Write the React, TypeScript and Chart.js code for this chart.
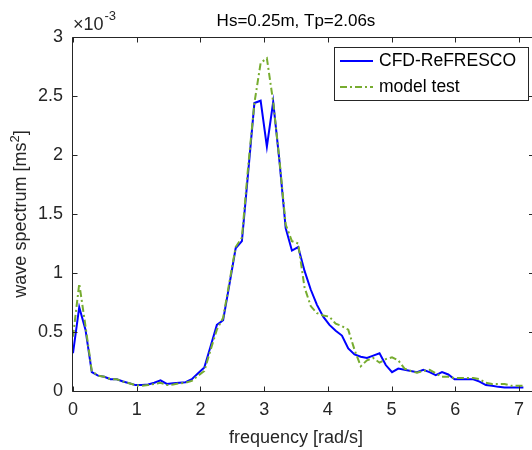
import React, { useEffect, useRef } from "react";
import { Chart, registerables } from "chart.js";

Chart.register(...registerables);

// frequency grid [rad/s]
const FREQ = [
  0, 0.098, 0.196, 0.295, 0.393, 0.491, 0.589, 0.687, 0.785, 0.884,
  0.982, 1.08, 1.178, 1.276, 1.374, 1.473, 1.571, 1.669, 1.767, 1.865,
  1.963, 2.062, 2.16, 2.258, 2.356, 2.454, 2.553, 2.651, 2.749, 2.847,
  2.945, 3.043, 3.142, 3.24, 3.338, 3.436, 3.534, 3.633, 3.731, 3.829,
  3.927, 4.025, 4.123, 4.221, 4.32, 4.418, 4.516, 4.614, 4.712, 4.811,
  4.909, 5.007, 5.105, 5.203, 5.301, 5.4, 5.498, 5.596, 5.694, 5.792,
  5.89, 5.989, 6.087, 6.185, 6.283, 6.381, 6.48, 6.578, 6.676, 6.774,
  6.872, 6.97, 7.069,
];

// wave spectrum values, in units of 1e-3 m^2 s
const CFD_REFRESCO = [
  0.32, 0.71, 0.52, 0.16, 0.13, 0.12, 0.1, 0.1, 0.08, 0.065,
  0.05, 0.05, 0.055, 0.07, 0.09, 0.06, 0.065, 0.07, 0.075, 0.1,
  0.15, 0.2, 0.38, 0.56, 0.6, 0.9, 1.21, 1.27, 1.85, 2.44,
  2.46, 2.07, 2.45, 1.95, 1.38, 1.19, 1.22, 1.02, 0.86, 0.73,
  0.63, 0.56, 0.51, 0.47, 0.36, 0.31, 0.29, 0.28, 0.3, 0.32,
  0.22, 0.16, 0.19, 0.18, 0.17, 0.16, 0.18, 0.16, 0.135, 0.16,
  0.14, 0.1, 0.1, 0.1, 0.1, 0.08, 0.05, 0.045, 0.035, 0.03,
  0.03, 0.03, 0.03,
];

const MODEL_TEST = [
  0.46, 0.91, 0.55, 0.17, 0.13, 0.12, 0.1, 0.1, 0.08, 0.065,
  0.05, 0.045, 0.05, 0.06, 0.07, 0.05, 0.055, 0.065, 0.07, 0.085,
  0.13, 0.17, 0.35, 0.52, 0.62, 0.92, 1.22, 1.3, 1.9, 2.44,
  2.78, 2.82, 2.45, 1.96, 1.41, 1.27, 1.25, 0.88, 0.72, 0.66,
  0.64, 0.63, 0.57, 0.55, 0.52, 0.35, 0.21, 0.26, 0.28, 0.24,
  0.27, 0.285, 0.26, 0.19, 0.17, 0.155, 0.17, 0.18, 0.15, 0.12,
  0.12, 0.11, 0.11, 0.11, 0.11, 0.1, 0.07, 0.06, 0.06, 0.06,
  0.045, 0.045, 0.045,
];

const X_TICKS = [0, 1, 2, 3, 4, 5, 6, 7];
const Y_TICKS = [0, 0.5, 1, 1.5, 2, 2.5, 3];

const TITLE = "Hs=0.25m, Tp=2.06s";
const X_LABEL = "frequency [rad/s]";
const Y_LABEL = "wave spectrum [ms";
const SERIES_NAMES = ["CFD-ReFRESCO", "model test"];

const FONT = '"Liberation Sans", Arial, Helvetica, sans-serif';
const AXIS_COLOR = "#262626";
const BLUE = "#0000FF";
const GREEN = "#77AC30";
const FS = 18;
const FS_TITLE = 17;
const FS_LEG = 17.5;

const decorPlugin = {
  id: "decor",
  afterDraw(chart: any) {
    const { ctx, chartArea } = chart;
    const { left, right, top, bottom } = chartArea;
    const xs = chart.scales.x;
    const ys = chart.scales.y;
    ctx.save();
    ctx.strokeStyle = AXIS_COLOR;
    ctx.lineWidth = 1;
    const L = Math.round(left) - 0.5;
    const B = Math.round(bottom) + 0.5;
    const T = Math.round(top) + 0.5;
    const W = chart.width;
    ctx.beginPath();
    ctx.moveTo(L, T);
    ctx.lineTo(L, B);
    ctx.moveTo(L, B);
    ctx.lineTo(W, B);
    ctx.moveTo(L, T);
    ctx.lineTo(W, T);
    for (const v of X_TICKS) {
      const px = Math.round(xs.getPixelForValue(v)) + 0.5;
      ctx.moveTo(px, B);
      ctx.lineTo(px, B - 5);
      ctx.moveTo(px, T);
      ctx.lineTo(px, T + 5);
    }
    for (const v of Y_TICKS) {
      const py = Math.round(ys.getPixelForValue(v)) + 0.5;
      ctx.moveTo(L, py);
      ctx.lineTo(L + 5, py);
      ctx.moveTo(W - 3, py);
      ctx.lineTo(W, py);
    }
    ctx.stroke();

    // title
    ctx.fillStyle = "#000";
    ctx.font = `${FS_TITLE}px ${FONT}`;
    ctx.textAlign = "center";
    ctx.textBaseline = "alphabetic";
    ctx.fillText(TITLE, (left + right) / 2, 26);

    // exponent
    ctx.fillStyle = AXIS_COLOR;
    ctx.textAlign = "left";
    ctx.font = `${FS}px ${FONT}`;
    ctx.fillText("\u00d710", left, 30);
    const w10 = ctx.measureText("\u00d710").width;
    ctx.font = `${Math.round(FS * 0.72)}px ${FONT}`;
    ctx.fillText("-3", left + w10 + 1, 20);

    // x label
    ctx.font = `${FS}px ${FONT}`;
    ctx.textAlign = "center";
    ctx.fillText(X_LABEL, (left + right) / 2, 443);

    // y label with superscript
    ctx.save();
    ctx.translate(26, (top + bottom) / 2);
    ctx.rotate(-Math.PI / 2);
    ctx.font = `${FS}px ${FONT}`;
    const wMain = ctx.measureText(Y_LABEL).width;
    ctx.font = `${Math.round(FS * 0.72)}px ${FONT}`;
    const wSup = ctx.measureText("2").width;
    ctx.font = `${FS}px ${FONT}`;
    const wEnd = ctx.measureText("]").width;
    const total = wMain + wSup + wEnd;
    const x0 = -total / 2;
    ctx.textAlign = "left";
    ctx.fillText(Y_LABEL, x0, 0);
    ctx.font = `${Math.round(FS * 0.72)}px ${FONT}`;
    ctx.fillText("2", x0 + wMain, -7);
    ctx.font = `${FS}px ${FONT}`;
    ctx.fillText("]", x0 + wMain + wSup, 0);
    ctx.restore();

    // legend
    const lx = 334.5, ly = 47.5, lw = 194, lh = 53;
    ctx.fillStyle = "#fff";
    ctx.fillRect(lx, ly, lw, lh);
    ctx.strokeStyle = AXIS_COLOR;
    ctx.lineWidth = 1;
    ctx.strokeRect(lx, ly, lw, lh);
    const rows = [
      { name: SERIES_NAMES[0], color: BLUE, dash: [] as number[], y: 61 },
      { name: SERIES_NAMES[1], color: GREEN, dash: [7, 3, 2, 3], y: 87 },
    ];
    for (const r of rows) {
      ctx.beginPath();
      ctx.strokeStyle = r.color;
      ctx.lineWidth = 2;
      ctx.setLineDash(r.dash);
      ctx.moveTo(340, r.y);
      ctx.lineTo(373, r.y);
      ctx.stroke();
      ctx.setLineDash([]);
      ctx.fillStyle = "#000";
      ctx.font = `${FS_LEG}px ${FONT}`;
      ctx.textAlign = "left";
      ctx.textBaseline = "middle";
      ctx.fillText(r.name, 379, r.y);
    }
    ctx.restore();
  },
};

export default function App() {
  const ref = useRef<HTMLCanvasElement | null>(null);

  useEffect(() => {
    if (!ref.current) return;
    const cfd = FREQ.map((f, i) => ({ x: f, y: CFD_REFRESCO[i] }));
    const mt = FREQ.map((f, i) => ({ x: f, y: MODEL_TEST[i] }));
    const chart = new Chart(ref.current, {
      type: "line",
      data: {
        datasets: [
          {
            label: SERIES_NAMES[0],
            data: cfd,
            borderColor: BLUE,
            borderWidth: 2,
            pointRadius: 0,
            tension: 0,
            order: 1,
            clip: { left: 0, top: 0, right: 6, bottom: 0 } as any,
          },
          {
            label: SERIES_NAMES[1],
            data: mt,
            borderColor: GREEN,
            borderWidth: 2,
            borderDash: [7, 3, 2, 3],
            pointRadius: 0,
            tension: 0,
            order: 0,
            clip: { left: 0, top: 0, right: 6, bottom: 0 } as any,
          },
        ],
      },
      options: {
        animation: false,
        responsive: false,
        maintainAspectRatio: false,
        layout: { padding: { left: 0, right: 5, top: 37, bottom: 0 } },
        plugins: {
          legend: { display: false },
          title: { display: false },
          tooltip: { enabled: false },
        },
        scales: {
          x: {
            type: "linear",
            min: 0,
            max: 7,
            afterBuildTicks: (s: any) => {
              s.ticks = X_TICKS.map((v) => ({ value: v }));
            },
            afterFit: (s: any) => {
              s.height = 59;
            },
            grid: { display: false, drawTicks: false },
            border: { display: false },
            ticks: {
              color: AXIS_COLOR,
              font: { family: FONT, size: FS },
              padding: 8,
              maxRotation: 0,
            },
          },
          y: {
            type: "linear",
            min: 0,
            max: 3,
            afterBuildTicks: (s: any) => {
              s.ticks = Y_TICKS.map((v) => ({ value: v }));
            },
            afterFit: (s: any) => {
              s.width = 73;
            },
            grid: { display: false, drawTicks: false },
            border: { display: false },
            ticks: {
              color: AXIS_COLOR,
              font: { family: FONT, size: FS },
              padding: 10,
              callback: (v: any) => String(v),
            },
          },
        },
      },
      plugins: [decorPlugin],
    });
    return () => chart.destroy();
  }, []);

  return (
    <div
      style={{
        position: "absolute",
        left: 0,
        top: 0,
        width: 532,
        height: 450,
        overflow: "hidden",
        background: "#fff",
      }}
    >
      <canvas ref={ref} width={532} height={450} style={{ display: "block" }} />
    </div>
  );
}
